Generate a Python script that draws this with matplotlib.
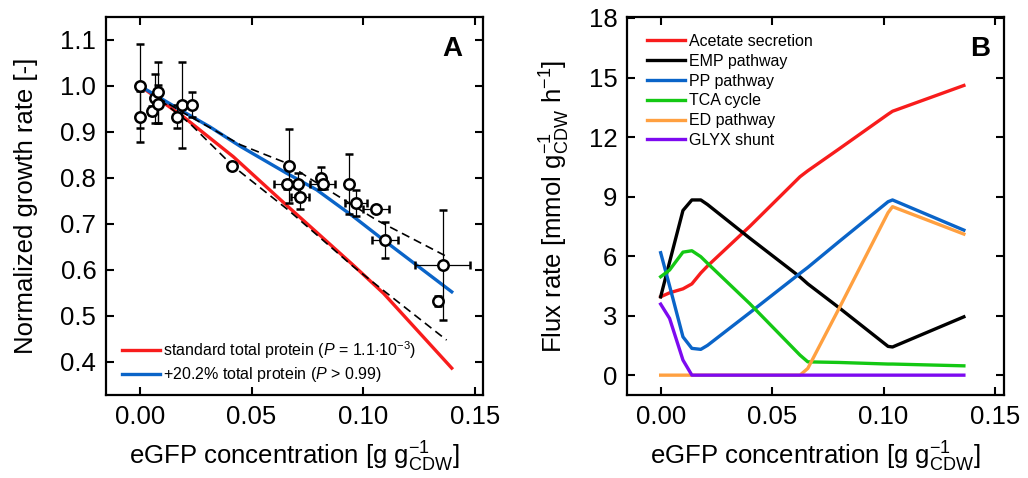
import matplotlib
matplotlib.use("Agg")
import matplotlib.pyplot as plt

plt.rcParams["font.family"] = ["Liberation Sans", "DejaVu Sans"]
plt.rcParams["mathtext.fontset"] = "custom"
plt.rcParams["mathtext.rm"] = "Liberation Sans"
plt.rcParams["mathtext.it"] = "Liberation Sans:italic"
plt.rcParams["mathtext.bf"] = "Liberation Sans:bold"

# ---- panel A: measured growth rates ----
egfp = [0.0, 0.0, 0.0052, 0.0067, 0.0082, 0.0082, 0.0167, 0.0187, 0.0231, 0.041,
        0.0667, 0.066, 0.0709, 0.0716, 0.0809, 0.0818, 0.0937, 0.0967, 0.1057,
        0.1097, 0.1355, 0.1336]
growth = [1.0, 0.933, 0.946, 0.973, 0.986, 0.961, 0.933, 0.959, 0.959, 0.826,
          0.826, 0.786, 0.786, 0.759, 0.80, 0.786, 0.786, 0.746, 0.732,
          0.665, 0.610, 0.532]
egfp_err = [0, 0, 0, 0, 0, 0, 0, 0, 0, 0,
            0, 0.0058, 0, 0.004, 0, 0.0056, 0, 0.005, 0.006,
            0.006, 0.0122, 0]
growth_err = [0.091, 0.056, 0.01, 0.053, 0.066, 0.042, 0.025, 0.093, 0.027, 0.005,
              0.08, 0.01, 0.024, 0.027, 0.024, 0.01, 0.065, 0.028, 0.005,
              0.04, 0.12, 0.01]

# model predictions
std_x = [0.0, 0.0194, 0.0418, 0.0664, 0.0955, 0.109, 0.1396]
std_y = [1.0, 0.933, 0.846, 0.737, 0.610, 0.549, 0.386]
plus_x = [0.0, 0.0194, 0.0313, 0.0448, 0.0657, 0.0791, 0.0955, 0.109, 0.1396]
plus_y = [1.0, 0.944, 0.911, 0.869, 0.81, 0.774, 0.716, 0.665, 0.552]
upper_x = [0.008, 0.02, 0.045, 0.0657, 0.0746, 0.106, 0.1373]
upper_y = [0.975, 0.94, 0.872, 0.832, 0.803, 0.708, 0.629]
lower_x = [0.009, 0.0224, 0.0418, 0.0664, 0.0955, 0.109, 0.1373]
lower_y = [0.97, 0.918, 0.825, 0.73, 0.607, 0.555, 0.447]

# ---- panel B: simulated fluxes ----
flux_x = [0.0, 0.004, 0.010, 0.014, 0.018, 0.021, 0.040, 0.0625, 0.066, 0.080,
          0.102, 0.104, 0.136]
acetate = [3.95, 4.15, 4.35, 4.6, 5.15, 5.5, 7.5, 10.0, 10.3, 11.4, 13.15, 13.3, 14.6]
emp = [3.95, 5.7, 8.3, 8.83, 8.83, 8.6, 6.9, 4.95, 4.6, 3.4, 1.45, 1.42, 2.94]
pp = [6.17, 4.5, 1.93, 1.35, 1.3, 1.5, 3.15, 5.13, 5.43, 6.73, 8.74, 8.83, 7.31]
tca = [4.96, 5.3, 6.2, 6.27, 5.97, 5.64, 3.6, 1.01, 0.67, 0.64, 0.56, 0.56, 0.47]
ed = [0, 0, 0, 0, 0, 0, 0, 0.0, 0.34, 3.36, 8.19, 8.49, 7.11]
glyx = [3.58, 2.86, 0.76, 0, 0, 0, 0, 0, 0, 0, 0, 0, 0]

flux_names = ["Acetate secretion", "EMP pathway", "PP pathway", "TCA cycle",
              "ED pathway", "GLYX shunt"]
flux_colors = ["#f81c1c", "#000000", "#0a64c8", "#14c814", "#ffa040", "#7d0af0"]

RED = "#f81c1c"
BLUE = "#0a64c8"

fig = plt.figure(figsize=(10.28, 4.78), dpi=100)
W, H = 1028, 478
axA = fig.add_axes([106 / W, 1 - 395 / H, 377 / W, 378 / H])
axB = fig.add_axes([627 / W, 1 - 395 / H, 377 / W, 378 / H])


def style_axes(ax):
    for s in ax.spines.values():
        s.set_linewidth(1.6)
    ax.tick_params(direction="in", length=6, width=1.5, labelsize=18.5,
                   top=True, right=True, pad=7)


leg_kw = dict(frameon=False, fontsize=11.5, handlelength=2.4, handletextpad=0.2,
              labelspacing=0.3, borderaxespad=0, borderpad=0)

# panel A
axA.plot(std_x, std_y, color=RED, lw=2.4, label=r"standard total protein ($\it{P}$ = 1.1$\cdot$10$^{-3}$)", zorder=3)
axA.plot(plus_x, plus_y, color=BLUE, lw=2.4, label=r"+20.2% total protein ($\it{P}$ > 0.99)", zorder=3)
axA.plot(upper_x, upper_y, color="black", lw=1.2, ls=(0, (5, 3)), zorder=4)
axA.plot(lower_x, lower_y, color="black", lw=1.2, ls=(0, (5, 3)), zorder=4)
axA.errorbar(egfp, growth, xerr=egfp_err, yerr=growth_err, fmt="o", ms=7.5,
             mfc="white", mec="black", mew=1.8, ecolor="black", elinewidth=0.9,
             capsize=3, capthick=0.9, zorder=5)
axA.set_xlim(-0.0152, 0.1536)
axA.set_ylim(0.3275, 1.15)
axA.set_xticks([0.0, 0.05, 0.10, 0.15])
axA.set_xticklabels(["0.00", "0.05", "0.10", "0.15"])
axA.set_yticks([0.4, 0.5, 0.6, 0.7, 0.8, 0.9, 1.0, 1.1])
axA.set_yticklabels(["0.4", "0.5", "0.6", "0.7", "0.8", "0.9", "1.0", "1.1"])
style_axes(axA)
axA.set_ylabel("Normalized growth rate [-]", fontsize=18.5, labelpad=16)
axA.set_xlabel(r"eGFP concentration [g g$_{\rm CDW}^{-1}$]", fontsize=18.5, labelpad=8)
axA.text(0.945, 0.915, "A", transform=axA.transAxes, fontsize=20, fontweight="bold",
         ha="right", va="center")
axA.legend(loc="lower left", bbox_to_anchor=(0.042, 0.028), **leg_kw)

# panel B
for vals, name, col in zip([acetate, emp, pp, tca, ed, glyx], flux_names, flux_colors):
    axB.plot(flux_x, vals, color=col, lw=2.4, label=name)
axB.set_xlim(-0.0151, 0.154)
axB.set_ylim(-1.0, 18.05)
axB.set_xticks([0.0, 0.05, 0.10, 0.15])
axB.set_xticklabels(["0.00", "0.05", "0.10", "0.15"])
axB.set_yticks([0, 3, 6, 9, 12, 15, 18])
style_axes(axB)
axB.set_ylabel(r"Flux rate [mmol g$_{\rm CDW}^{-1}$ h$^{-1}$]", fontsize=18.5, labelpad=12)
axB.set_xlabel(r"eGFP concentration [g g$_{\rm CDW}^{-1}$]", fontsize=18.5, labelpad=8)
axB.text(0.962, 0.915, "B", transform=axB.transAxes, fontsize=20, fontweight="bold",
         ha="right", va="center")
axB.legend(loc="upper left", bbox_to_anchor=(0.053, 0.955), **leg_kw)

fig.savefig("out.png", dpi=100)
